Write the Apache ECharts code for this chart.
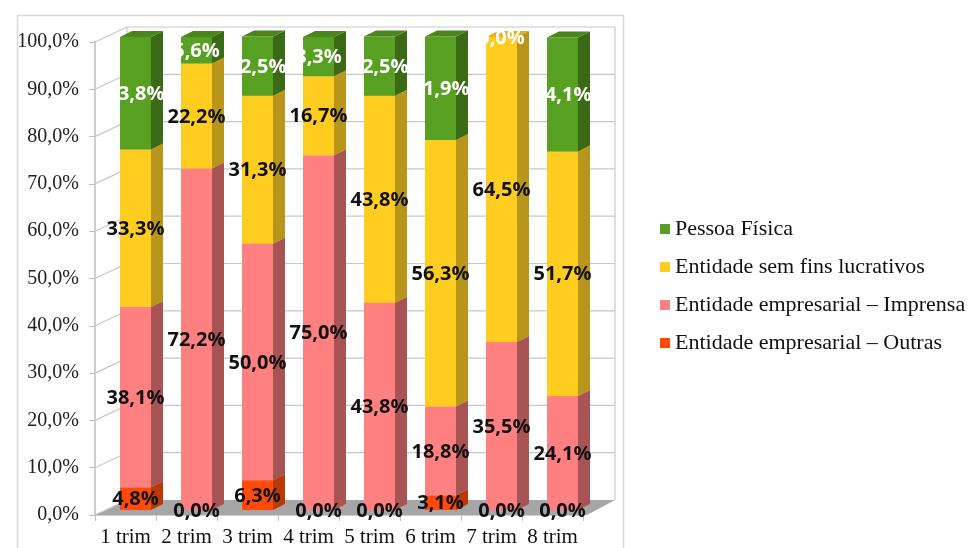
<!DOCTYPE html>
<html>
<head>
    <meta charset="utf-8">
    <title>index</title>
    <style>
        html, body { margin: 0; padding: 0; background: #fff; }
        #container { width: 971px; height: 548px; }
    </style>
</head>
<body>
    <div id="container"></div>
    <script src="https://cdn.jsdelivr.net/npm/echarts@6/dist/echarts.min.js"></script>
    <script type="text/javascript">
    var categories = ['1 trim', '2 trim', '3 trim', '4 trim', '5 trim', '6 trim', '7 trim', '8 trim'];
    var yTicks = [0, 10, 20, 30, 40, 50, 60, 70, 80, 90, 100];

    // stacked from the bottom up
    var outras = [4.8, 0.0, 6.3, 0.0, 0.0, 3.1, 0.0, 0.0];
    var imprensa = [38.1, 72.2, 50.0, 75.0, 43.8, 18.8, 35.5, 24.1];
    var semFins = [33.3, 22.2, 31.3, 16.7, 43.8, 56.3, 64.5, 51.7];
    var pessoaFisica = [23.8, 5.6, 12.5, 8.3, 12.5, 21.9, 0.0, 24.1];

    var stack = [
        { name: 'Entidade empresarial – Outras', values: outras, front: '#ff4a0a', side: '#b93a06', top: '#d84008', label: '#111' },
        { name: 'Entidade empresarial – Imprensa', values: imprensa, front: '#ff8080', side: '#a85454', top: '#e07070', label: '#111' },
        { name: 'Entidade sem fins lucrativos', values: semFins, front: '#ffcd1f', side: '#b8961c', top: '#e0b41c', label: '#111' },
        { name: 'Pessoa Física', values: pessoaFisica, front: '#58a021', side: '#3a6a15', top: '#4a861c', label: '#fff' }
    ];

    var OX = 10, OY = -5;   // bars sit a bit behind the front plane
    var DX = 12, DY = 6;    // bar depth
    var WX = 32, WY = 15;   // wall depth

    function fmt(v) { return v.toFixed(1).replace('.', ',') + '%'; }

    var dom = document.getElementById('container');
    var myChart = echarts.init(dom);

    var series = [];

    // floor and walls
    series.push({
        type: 'custom',
        silent: true,
        data: [[0]],
        z: 1,
        renderItem: function (params, api) {
            var cs = params.coordSys;
            var x = cs.x, y = cs.y, w = cs.width, h = cs.height;
            var kids = [];
            kids.push({
                type: 'polygon',
                shape: { points: [[x, y + h], [x + w + 4, y + h], [x + w + WX, y + h - WY], [x + WX, y + h - WY]] },
                style: { fill: '#a6a6a6' }
            });
            yTicks.forEach(function (t) {
                var yy = api.coord([0, t])[1];
                kids.push({ type: 'line', shape: { x1: x, y1: yy, x2: x + WX, y2: yy - WY }, style: { stroke: '#c8c8c8', lineWidth: 1.2 } });
                if (t > 0) {
                    kids.push({ type: 'line', shape: { x1: x + WX, y1: yy - WY, x2: x + w + WX, y2: yy - WY }, style: { stroke: '#c8c8c8', lineWidth: 1.2 } });
                }
            });
            kids.push({ type: 'line', shape: { x1: x + WX, y1: y - WY, x2: x + WX, y2: y + h - WY }, style: { stroke: '#c8c8c8', lineWidth: 1.2 } });
            kids.push({ type: 'line', shape: { x1: x + w + WX, y1: y - WY, x2: x + w + WX, y2: y + h - WY }, style: { stroke: '#c8c8c8', lineWidth: 1.2 } });
            return { type: 'group', children: kids };
        }
    });

    stack.forEach(function (s, si) {
        var data = s.values.map(function (v, i) {
            var base = 0;
            for (var k = 0; k < si; k++) base += stack[k].values[i];
            return [i, base, v];
        });
        series.push({
            type: 'custom',
            name: s.name,
            itemStyle: { color: s.front },
            z: 2,
            data: data,
            renderItem: function (params, api) {
                var ci = api.value(0), base = api.value(1), val = api.value(2);
                var p0 = api.coord([ci, base]);
                var p1 = api.coord([ci, base + val]);
                var bw = api.size([1, 0])[0] * 0.508;
                var x0 = p0[0] - bw / 2 + OX, x1 = x0 + bw;
                var yb = p0[1] + OY, yt = p1[1] + OY;
                var kids = [];
                if (val > 0) {
                    kids.push({ type: 'rect', shape: { x: x0, y: yt, width: bw, height: yb - yt }, style: { fill: s.front } });
                    kids.push({ type: 'polygon', shape: { points: [[x1, yt], [x1 + DX, yt - DY], [x1 + DX, yb - DY], [x1, yb]] }, style: { fill: s.side } });
                    kids.push({ type: 'polygon', shape: { points: [[x0, yt], [x0 + DX, yt - DY], [x1 + DX, yt - DY], [x1, yt]] }, style: { fill: s.top } });
                }
                kids.push({
                    type: 'text',
                    z2: 100,
                    style: {
                        text: fmt(val),
                        x: (x0 + x1) / 2,
                        y: (yt + yb) / 2 + 1,
                        align: 'center',
                        verticalAlign: 'middle',
                        fill: s.label,
                        font: 'bold 20px "Open Sans", sans-serif'
                    }
                });
                return { type: 'group', children: kids };
            }
        });
    });

    var option = {
        backgroundColor: '#fff',
        animation: false,
        graphic: [{
            type: 'rect',
            left: 15, top: 13,
            shape: { width: 606, height: 560 },
            style: { fill: 'none', stroke: '#d9d9d9', lineWidth: 1.5 },
            silent: true
        }],
        legend: {
            orient: 'vertical',
            left: 655,
            top: 213,
            icon: 'rect',
            itemWidth: 10,
            itemHeight: 10,
            itemGap: 16,
            data: ['Pessoa Física', 'Entidade sem fins lucrativos', 'Entidade empresarial – Imprensa', 'Entidade empresarial – Outras'],
            textStyle: { fontFamily: 'Liberation Serif', fontSize: 22, color: '#111' }
        },
        grid: { left: 95, right: 388, top: 42, bottom: 33, outerBoundsMode: 'none', containLabel: false },
        xAxis: {
            type: 'category',
            data: categories,
            axisLine: { lineStyle: { color: '#bfbfbf', width: 1.5 } },
            axisTick: { show: true, length: 6, lineStyle: { color: '#bfbfbf' } },
            axisLabel: { margin: 12, fontFamily: 'Liberation Serif', fontSize: 21, color: '#111', interval: 0 }
        },
        yAxis: {
            type: 'value',
            min: 0,
            max: 100,
            interval: 10,
            axisLine: { show: true, lineStyle: { color: '#bfbfbf', width: 1.5 } },
            axisTick: { show: true, length: 6, lineStyle: { color: '#bfbfbf' } },
            splitLine: { show: false },
            axisLabel: {
                margin: 16,
                padding: [6, 0, 0, 0],
                fontFamily: 'Liberation Serif',
                fontSize: 20,
                color: '#222',
                formatter: function (v) { return fmt(v); }
            }
        },
        series: series
    };
    myChart.setOption(option, true);
    </script>
</body>
</html>
